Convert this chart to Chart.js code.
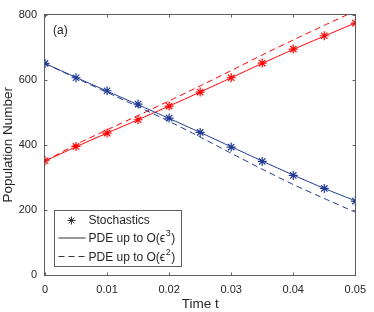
<!DOCTYPE html>
<html lang="en">
<head>
<meta charset="UTF-8">
<title>Population Number</title>
<script src="https://cdn.jsdelivr.net/npm/chart.js"></script>
<style>
    * { margin: 0; padding: 0; box-sizing: border-box; }
    body { background: #fff; width: 374px; height: 312px; overflow: hidden; }
    .chart-box { width: 374px; height: 312px; }
</style>
</head>
<body>
<div class="chart-box"><canvas id="popChart" width="374" height="312"></canvas></div>
<script>
// values
const timeT = [0, 0.005, 0.01, 0.015, 0.02, 0.025, 0.03, 0.035, 0.04, 0.045, 0.05];
const blueStoch = [650, 606, 566, 525, 482, 438, 393, 349, 306, 266, 227];
const redStoch = [351, 395, 436, 477, 519, 562, 606, 651, 694, 735, 774];
const bluePde3 = [650, 607, 565, 523, 481, 438, 394, 350, 307, 266, 228];
const redPde3 = [350, 394, 436, 477, 519, 562, 606, 650, 693, 734, 774];
const bluePde2 = [650, 605, 561, 517, 472, 424, 374, 325, 278, 235, 193];
const redPde2 = [350, 401, 446, 490, 535, 581, 628, 676, 722, 767, 811];
const xTicks = [0, 0.01, 0.02, 0.03, 0.04, 0.05];
const yTicks = [0, 200, 400, 600, 800];
const legendLabels = ['Stochastics', 'PDE up to O(\u03f5^3)', 'PDE up to O(\u03f5^2)'];
const panelLabel = '(a)';

const RED = '#ff0000';
const BLUE = '#1f3a93';
const TEXT = '#262626';
const AXIS = '#5e5e5e';
const FONT = "'Liberation Sans', Arial, sans-serif";

const pts = arr => arr.map((v, i) => ({ x: timeT[i], y: v }));

function stars(data, color) {
    return { data: pts(data), showLine: false, pointStyle: 'star', pointRadius: 4.5,
             pointBorderWidth: 1.2, borderColor: color, backgroundColor: color };
}
function curve(data, color, dash) {
    return { data: pts(data), borderColor: color, borderWidth: 1, borderDash: dash,
             pointRadius: 0, tension: 0.2, fill: false };
}

// box, inward ticks, panel label and legend
const frameAndLegend = {
    id: 'frameAndLegend',
    afterDraw(chart) {
        const { ctx, chartArea: a, scales: { x, y } } = chart;
        const L = Math.round(a.left) - 0.5, R = Math.round(a.right) + 0.5;
        const T = Math.round(a.top) - 0.5, B = Math.round(a.bottom) + 0.5;
        ctx.save();
        ctx.strokeStyle = AXIS;
        ctx.lineWidth = 1;
        ctx.strokeRect(L, T, R - L, B - T);
        ctx.beginPath();
        xTicks.forEach(v => {
            const px = Math.round(x.getPixelForValue(v)) + 0.5;
            ctx.moveTo(px, B); ctx.lineTo(px, B - 3);
            ctx.moveTo(px, T); ctx.lineTo(px, T + 3);
        });
        yTicks.forEach(v => {
            const py = Math.round(y.getPixelForValue(v)) + 0.5;
            ctx.moveTo(L, py); ctx.lineTo(L + 3, py);
            ctx.moveTo(R, py); ctx.lineTo(R - 3, py);
        });
        ctx.stroke();

        ctx.fillStyle = TEXT;
        ctx.font = '12px ' + FONT;
        ctx.textBaseline = 'middle';
        ctx.fillText(panelLabel, L + 8.5, T + 16);

        // legend
        const bx = L + 10, by = B - 65, bw = 127, bh = 56;
        ctx.fillStyle = '#fff';
        ctx.fillRect(bx, by, bw, bh);
        ctx.strokeStyle = AXIS;
        ctx.strokeRect(bx, by, bw, bh);
        const rows = [by + 10, by + 28.5, by + 47];
        ctx.strokeStyle = '#333';
        Chart.helpers.drawPoint(ctx, { pointStyle: 'star', radius: 4, borderWidth: 1.2 }, bx + 17, rows[0]);
        ctx.lineWidth = 1;
        ctx.beginPath();
        ctx.moveTo(bx + 4, rows[1] - 1); ctx.lineTo(bx + 31, rows[1] - 1);
        ctx.stroke();
        ctx.setLineDash([6, 4]);
        ctx.beginPath();
        ctx.moveTo(bx + 4, rows[2] - 1); ctx.lineTo(bx + 31, rows[2] - 1);
        ctx.stroke();
        ctx.setLineDash([]);

        ctx.fillStyle = TEXT;
        legendLabels.forEach((lab, i) => {
            let tx = bx + 34;
            const ty = rows[i];
            const parts = lab.split('^');
            ctx.font = '12px ' + FONT;
            ctx.fillText(parts[0], tx, ty);
            tx += ctx.measureText(parts[0]).width;
            if (parts.length > 1) {
                ctx.font = '9px ' + FONT;
                ctx.fillText(parts[1][0], tx + 0.5, ty - 5);
                tx += ctx.measureText(parts[1][0]).width + 1;
                ctx.font = '12px ' + FONT;
                ctx.fillText(parts[1].slice(1), tx, ty);
            }
        });
        ctx.restore();
    }
};

new Chart(document.getElementById('popChart'), {
    type: 'line',
    data: {
        datasets: [
            stars(blueStoch, BLUE),
            stars(redStoch, RED),
            curve(bluePde3, BLUE, []),
            curve(redPde3, RED, []),
            curve(bluePde2, BLUE, [6, 4]),
            curve(redPde2, RED, [6, 4])
        ]
    },
    options: {
        responsive: false,
        animation: false,
        layout: { padding: { top: 7, right: 13, left: 0, bottom: 0 } },
        plugins: { legend: { display: false }, tooltip: { enabled: false } },
        scales: {
            x: {
                type: 'linear', min: 0, max: 0.05,
                grid: { display: false, drawTicks: false, tickLength: 0 }, border: { display: false },
                afterBuildTicks: s => { s.ticks = xTicks.map(v => ({ value: v })); },
                afterFit: s => { s.height = 37; },
                ticks: { padding: 8, color: TEXT, maxRotation: 0, font: { size: 11, family: FONT },
                         callback: v => String(+v.toFixed(3)) },
                title: { display: true, text: 'Time t', color: TEXT,
                         font: { size: 13.5, family: FONT }, padding: { top: 0, bottom: 0 } }
            },
            y: {
                min: 0, max: 800,
                grid: { display: false, drawTicks: false, tickLength: 0 }, border: { display: false },
                afterBuildTicks: s => { s.ticks = yTicks.map(v => ({ value: v })); },
                afterFit: s => { s.width = 45; },
                ticks: { padding: 8, color: TEXT, font: { size: 11, family: FONT } },
                title: { display: true, text: 'Population Number', color: TEXT,
                         font: { size: 13.5, family: FONT }, padding: { top: 0, bottom: 0 } }
            }
        }
    },
    plugins: [frameAndLegend]
});
</script>
</body>
</html>
